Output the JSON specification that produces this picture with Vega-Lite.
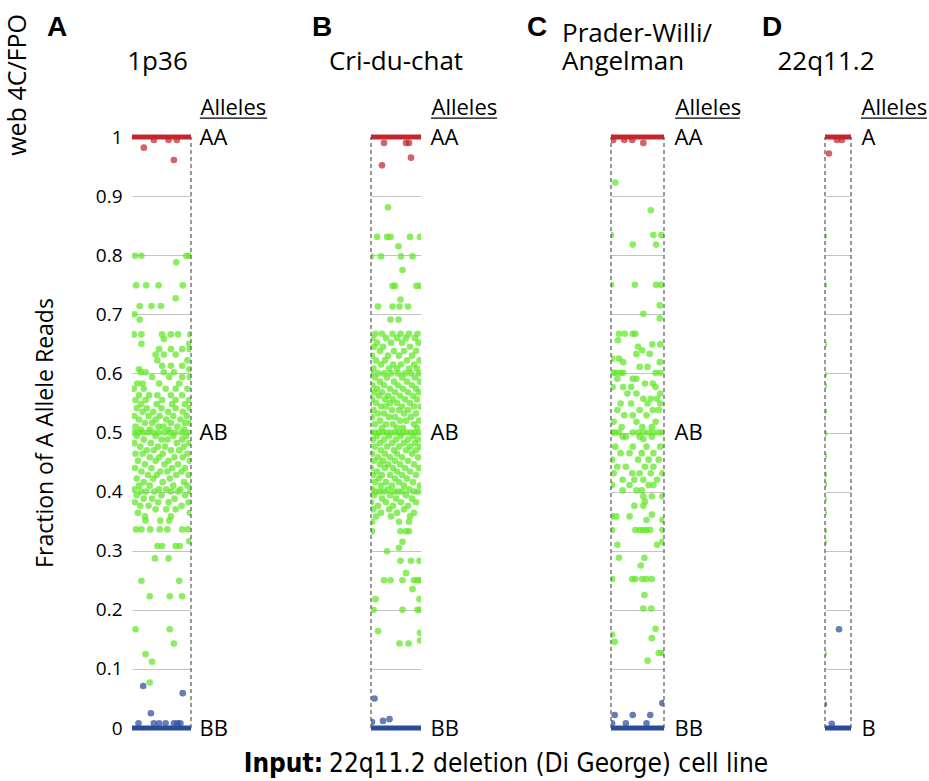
{
"$schema":"https://vega.github.io/schema/vega-lite/v6.json",
"padding":{"left":6,"top":14,"right":0,"bottom":0},
"title":{"text":"web 4C/FPO","orient":"left","anchor":"end","fontSize":25,"fontWeight":"normal","font":"Open Sans","offset":3},
"config":{"view":{"stroke":null},"font":"Open Sans","axis":{"labelColor":"#000","titleColor":"#000","labelFont":"Open Sans","titleFont":"Open Sans"},"title":{"color":"#000"}},
"datasets":{
"A":[
{"x":0.37,"y":0.995,"a":"AA"},{"x":0.62,"y":0.995,"a":"AA"},{"x":0.76,"y":0.995,"a":"AA"},{"x":0.2,"y":0.982,"a":"AA"},{"x":0.71,"y":0.961,"a":"AA"},
{"x":0.05,"y":0.799,"a":"AB"},{"x":0.16,"y":0.799,"a":"AB"},{"x":0.92,"y":0.799,"a":"AB"},{"x":0.98,"y":0.799,"a":"AB"},
{"x":0.75,"y":0.788,"a":"AB"},
{"x":0.07,"y":0.749,"a":"AB"},{"x":0.24,"y":0.749,"a":"AB"},{"x":0.45,"y":0.749,"a":"AB"},{"x":0.86,"y":0.749,"a":"AB"},
{"x":0.74,"y":0.727,"a":"AB"},
{"x":0.13,"y":0.714,"a":"AB"},{"x":0.33,"y":0.714,"a":"AB"},{"x":0.49,"y":0.714,"a":"AB"},
{"x":0.04,"y":0.7,"a":"AB"},{"x":0.13,"y":0.691,"a":"AB"},
{"x":0.03,"y":0.666,"a":"AB"},{"x":0.16,"y":0.666,"a":"AB"},{"x":0.51,"y":0.666,"a":"AB"},{"x":0.66,"y":0.666,"a":"AB"},{"x":0.78,"y":0.666,"a":"AB"},{"x":0.99,"y":0.666,"a":"AB"},
{"x":0.54,"y":0.658,"a":"AB"},{"x":0.16,"y":0.65,"a":"AB"},{"x":0.97,"y":0.65,"a":"AB"},
{"x":0.46,"y":0.641,"a":"AB"},{"x":0.66,"y":0.641,"a":"AB"},{"x":0.85,"y":0.641,"a":"AB"},{"x":0.98,"y":0.641,"a":"AB"},
{"x":0.4,"y":0.632,"a":"AB"},{"x":0.54,"y":0.632,"a":"AB"},{"x":0.74,"y":0.632,"a":"AB"},
{"x":0.43,"y":0.622,"a":"AB"},{"x":0.94,"y":0.622,"a":"AB"},
{"x":0.51,"y":0.613,"a":"AB"},{"x":0.66,"y":0.613,"a":"AB"},{"x":0.85,"y":0.613,"a":"AB"},
{"x":0.12,"y":0.607,"a":"AB"},{"x":0.97,"y":0.607,"a":"AB"},
{"x":0.15,"y":0.602,"a":"AB"},{"x":0.23,"y":0.602,"a":"AB"},{"x":0.54,"y":0.602,"a":"AB"},{"x":0.71,"y":0.602,"a":"AB"},
{"x":0.34,"y":0.594,"a":"AB"},{"x":0.63,"y":0.594,"a":"AB"},{"x":0.85,"y":0.594,"a":"AB"},{"x":0.98,"y":0.594,"a":"AB"},
{"x":0.09,"y":0.583,"a":"AB"},{"x":0.18,"y":0.583,"a":"AB"},{"x":0.46,"y":0.583,"a":"AB"},{"x":0.8,"y":0.583,"a":"AB"},
{"x":0.03,"y":0.574,"a":"AB"},{"x":0.2,"y":0.574,"a":"AB"},{"x":0.57,"y":0.574,"a":"AB"},{"x":0.74,"y":0.574,"a":"AB"},{"x":0.94,"y":0.574,"a":"AB"},
{"x":0.12,"y":0.563,"a":"AB"},{"x":0.29,"y":0.563,"a":"AB"},{"x":0.43,"y":0.563,"a":"AB"},{"x":0.66,"y":0.563,"a":"AB"},{"x":0.85,"y":0.563,"a":"AB"},
{"x":0.06,"y":0.555,"a":"AB"},{"x":0.23,"y":0.555,"a":"AB"},{"x":0.51,"y":0.555,"a":"AB"},{"x":0.74,"y":0.555,"a":"AB"},{"x":0.97,"y":0.555,"a":"AB"},
{"x":0.15,"y":0.548,"a":"AB"},{"x":0.42,"y":0.548,"a":"AB"},{"x":0.68,"y":0.548,"a":"AB"},{"x":0.9,"y":0.548,"a":"AB"},
{"x":0.08,"y":0.541,"a":"AB"},{"x":0.25,"y":0.541,"a":"AB"},{"x":0.5,"y":0.541,"a":"AB"},{"x":0.74,"y":0.541,"a":"AB"},{"x":0.98,"y":0.541,"a":"AB"},
{"x":0.18,"y":0.535,"a":"AB"},{"x":0.36,"y":0.535,"a":"AB"},{"x":0.61,"y":0.535,"a":"AB"},{"x":0.86,"y":0.535,"a":"AB"},
{"x":0.04,"y":0.528,"a":"AB"},{"x":0.28,"y":0.528,"a":"AB"},{"x":0.47,"y":0.528,"a":"AB"},{"x":0.7,"y":0.528,"a":"AB"},{"x":0.93,"y":0.528,"a":"AB"},
{"x":0.12,"y":0.522,"a":"AB"},{"x":0.4,"y":0.522,"a":"AB"},{"x":0.58,"y":0.522,"a":"AB"},{"x":0.82,"y":0.522,"a":"AB"},
{"x":0.22,"y":0.516,"a":"AB"},{"x":0.34,"y":0.516,"a":"AB"},{"x":0.66,"y":0.516,"a":"AB"},{"x":0.9,"y":0.516,"a":"AB"},{"x":0.99,"y":0.516,"a":"AB"},
{"x":0.06,"y":0.51,"a":"AB"},{"x":0.45,"y":0.51,"a":"AB"},{"x":0.53,"y":0.51,"a":"AB"},{"x":0.77,"y":0.51,"a":"AB"},
{"x":0.15,"y":0.505,"a":"AB"},{"x":0.3,"y":0.505,"a":"AB"},{"x":0.62,"y":0.505,"a":"AB"},{"x":0.88,"y":0.505,"a":"AB"},
{"x":0.03,"y":0.5,"a":"AB"},{"x":0.1,"y":0.5,"a":"AB"},{"x":0.19,"y":0.5,"a":"AB"},{"x":0.27,"y":0.5,"a":"AB"},{"x":0.36,"y":0.5,"a":"AB"},{"x":0.45,"y":0.5,"a":"AB"},{"x":0.55,"y":0.5,"a":"AB"},{"x":0.64,"y":0.5,"a":"AB"},{"x":0.73,"y":0.5,"a":"AB"},{"x":0.84,"y":0.5,"a":"AB"},{"x":0.95,"y":0.5,"a":"AB"},
{"x":0.08,"y":0.494,"a":"AB"},{"x":0.4,"y":0.494,"a":"AB"},{"x":0.7,"y":0.494,"a":"AB"},{"x":0.92,"y":0.494,"a":"AB"},
{"x":0.2,"y":0.488,"a":"AB"},{"x":0.5,"y":0.488,"a":"AB"},{"x":0.6,"y":0.488,"a":"AB"},{"x":0.85,"y":0.488,"a":"AB"},
{"x":0.04,"y":0.482,"a":"AB"},{"x":0.32,"y":0.482,"a":"AB"},{"x":0.76,"y":0.482,"a":"AB"},{"x":0.97,"y":0.482,"a":"AB"},
{"x":0.14,"y":0.476,"a":"AB"},{"x":0.44,"y":0.476,"a":"AB"},{"x":0.56,"y":0.476,"a":"AB"},{"x":0.88,"y":0.476,"a":"AB"},
{"x":0.25,"y":0.47,"a":"AB"},{"x":0.37,"y":0.47,"a":"AB"},{"x":0.66,"y":0.47,"a":"AB"},{"x":0.8,"y":0.47,"a":"AB"},
{"x":0.06,"y":0.464,"a":"AB"},{"x":0.18,"y":0.464,"a":"AB"},{"x":0.52,"y":0.464,"a":"AB"},{"x":0.94,"y":0.464,"a":"AB"},
{"x":0.3,"y":0.458,"a":"AB"},{"x":0.46,"y":0.458,"a":"AB"},{"x":0.72,"y":0.458,"a":"AB"},{"x":0.86,"y":0.458,"a":"AB"},
{"x":0.1,"y":0.452,"a":"AB"},{"x":0.4,"y":0.452,"a":"AB"},{"x":0.62,"y":0.452,"a":"AB"},{"x":0.98,"y":0.452,"a":"AB"},
{"x":0.22,"y":0.446,"a":"AB"},{"x":0.55,"y":0.446,"a":"AB"},{"x":0.78,"y":0.446,"a":"AB"},
{"x":0.05,"y":0.44,"a":"AB"},{"x":0.33,"y":0.44,"a":"AB"},{"x":0.68,"y":0.44,"a":"AB"},{"x":0.9,"y":0.44,"a":"AB"},
{"x":0.16,"y":0.434,"a":"AB"},{"x":0.48,"y":0.434,"a":"AB"},{"x":0.6,"y":0.434,"a":"AB"},{"x":0.84,"y":0.434,"a":"AB"},
{"x":0.27,"y":0.428,"a":"AB"},{"x":0.42,"y":0.428,"a":"AB"},{"x":0.75,"y":0.428,"a":"AB"},{"x":0.96,"y":0.428,"a":"AB"},
{"x":0.08,"y":0.422,"a":"AB"},{"x":0.36,"y":0.422,"a":"AB"},{"x":0.64,"y":0.422,"a":"AB"},
{"x":0.2,"y":0.416,"a":"AB"},{"x":0.52,"y":0.416,"a":"AB"},{"x":0.88,"y":0.416,"a":"AB"},
{"x":0.12,"y":0.41,"a":"AB"},{"x":0.3,"y":0.41,"a":"AB"},{"x":0.7,"y":0.41,"a":"AB"},{"x":0.94,"y":0.41,"a":"AB"},
{"x":0.04,"y":0.404,"a":"AB"},{"x":0.46,"y":0.404,"a":"AB"},{"x":0.58,"y":0.404,"a":"AB"},{"x":0.82,"y":0.404,"a":"AB"},
{"x":0.15,"y":0.4,"a":"AB"},{"x":0.24,"y":0.4,"a":"AB"},{"x":0.38,"y":0.4,"a":"AB"},{"x":0.66,"y":0.4,"a":"AB"},{"x":0.78,"y":0.4,"a":"AB"},{"x":0.99,"y":0.4,"a":"AB"},
{"x":0.08,"y":0.394,"a":"AB"},{"x":0.5,"y":0.394,"a":"AB"},{"x":0.9,"y":0.394,"a":"AB"},
{"x":0.2,"y":0.388,"a":"AB"},{"x":0.34,"y":0.388,"a":"AB"},{"x":0.72,"y":0.388,"a":"AB"},
{"x":0.05,"y":0.382,"a":"AB"},{"x":0.44,"y":0.382,"a":"AB"},{"x":0.62,"y":0.382,"a":"AB"},{"x":0.96,"y":0.382,"a":"AB"},
{"x":0.14,"y":0.376,"a":"AB"},{"x":0.28,"y":0.376,"a":"AB"},{"x":0.84,"y":0.376,"a":"AB"},
{"x":0.4,"y":0.37,"a":"AB"},{"x":0.58,"y":0.37,"a":"AB"},{"x":0.74,"y":0.37,"a":"AB"},
{"x":0.1,"y":0.364,"a":"AB"},{"x":0.98,"y":0.364,"a":"AB"},
{"x":0.22,"y":0.358,"a":"AB"},{"x":0.66,"y":0.358,"a":"AB"},
{"x":0.23,"y":0.351,"a":"AB"},{"x":0.48,"y":0.351,"a":"AB"},{"x":0.63,"y":0.351,"a":"AB"},
{"x":0.07,"y":0.336,"a":"AB"},{"x":0.16,"y":0.336,"a":"AB"},{"x":0.31,"y":0.336,"a":"AB"},{"x":0.47,"y":0.336,"a":"AB"},{"x":0.6,"y":0.336,"a":"AB"},{"x":0.85,"y":0.336,"a":"AB"},{"x":0.95,"y":0.336,"a":"AB"},
{"x":0.97,"y":0.316,"a":"AB"},
{"x":0.43,"y":0.308,"a":"AB"},{"x":0.51,"y":0.308,"a":"AB"},{"x":0.74,"y":0.308,"a":"AB"},{"x":0.81,"y":0.308,"a":"AB"},
{"x":0.39,"y":0.287,"a":"AB"},{"x":0.62,"y":0.287,"a":"AB"},
{"x":0.16,"y":0.249,"a":"AB"},{"x":0.8,"y":0.249,"a":"AB"},
{"x":0.3,"y":0.223,"a":"AB"},{"x":0.64,"y":0.223,"a":"AB"},{"x":0.85,"y":0.223,"a":"AB"},
{"x":0.06,"y":0.167,"a":"AB"},{"x":0.64,"y":0.167,"a":"AB"},
{"x":0.71,"y":0.143,"a":"AB"},{"x":0.23,"y":0.125,"a":"AB"},{"x":0.34,"y":0.112,"a":"AB"},{"x":0.3,"y":0.077,"a":"AB"},
{"x":0.19,"y":0.071,"a":"BB"},{"x":0.86,"y":0.059,"a":"BB"},{"x":0.32,"y":0.025,"a":"BB"},
{"x":0.11,"y":0.008,"a":"BB"},{"x":0.37,"y":0.008,"a":"BB"},{"x":0.46,"y":0.008,"a":"BB"},{"x":0.57,"y":0.008,"a":"BB"},{"x":0.71,"y":0.008,"a":"BB"},{"x":0.77,"y":0.008,"a":"BB"},{"x":0.82,"y":0.008,"a":"BB"}
],
"B":[
{"x":0.26,"y":0.99,"a":"AA"},{"x":0.7,"y":0.99,"a":"AA"},{"x":0.76,"y":0.99,"a":"AA"},{"x":0.8,"y":0.965,"a":"AA"},{"x":0.22,"y":0.952,"a":"AA"},
{"x":0.34,"y":0.881,"a":"AB"},
{"x":0.12,"y":0.831,"a":"AB"},{"x":0.32,"y":0.831,"a":"AB"},{"x":0.39,"y":0.831,"a":"AB"},{"x":0.78,"y":0.831,"a":"AB"},{"x":0.98,"y":0.831,"a":"AB"},
{"x":0.55,"y":0.815,"a":"AB"},
{"x":0.0,"y":0.798,"a":"AB"},{"x":0.2,"y":0.798,"a":"AB"},{"x":0.6,"y":0.798,"a":"AB"},{"x":0.83,"y":0.798,"a":"AB"},
{"x":0.63,"y":0.775,"a":"AB"},
{"x":0.43,"y":0.748,"a":"AB"},{"x":0.48,"y":0.748,"a":"AB"},{"x":0.91,"y":0.748,"a":"AB"},{"x":0.98,"y":0.748,"a":"AB"},
{"x":0.59,"y":0.725,"a":"AB"},
{"x":0.14,"y":0.713,"a":"AB"},{"x":0.43,"y":0.713,"a":"AB"},{"x":0.57,"y":0.713,"a":"AB"},{"x":0.74,"y":0.713,"a":"AB"},
{"x":0.39,"y":0.691,"a":"AB"},{"x":0.55,"y":0.691,"a":"AB"},
{"x":0.09,"y":0.667,"a":"AB"},{"x":0.22,"y":0.667,"a":"AB"},{"x":0.43,"y":0.667,"a":"AB"},{"x":0.59,"y":0.667,"a":"AB"},{"x":0.76,"y":0.667,"a":"AB"},{"x":0.93,"y":0.667,"a":"AB"},
{"x":0.03,"y":0.66,"a":"AB"},{"x":0.3,"y":0.66,"a":"AB"},{"x":0.52,"y":0.66,"a":"AB"},{"x":0.7,"y":0.66,"a":"AB"},{"x":0.88,"y":0.66,"a":"AB"},
{"x":0.12,"y":0.652,"a":"AB"},{"x":0.4,"y":0.652,"a":"AB"},{"x":0.62,"y":0.652,"a":"AB"},{"x":0.95,"y":0.652,"a":"AB"},
{"x":0.06,"y":0.645,"a":"AB"},{"x":0.24,"y":0.645,"a":"AB"},{"x":0.78,"y":0.645,"a":"AB"},
{"x":0.18,"y":0.638,"a":"AB"},{"x":0.46,"y":0.638,"a":"AB"},{"x":0.66,"y":0.638,"a":"AB"},{"x":0.9,"y":0.638,"a":"AB"},
{"x":0.02,"y":0.63,"a":"AB"},{"x":0.34,"y":0.63,"a":"AB"},{"x":0.56,"y":0.63,"a":"AB"},{"x":0.82,"y":0.63,"a":"AB"},
{"x":0.1,"y":0.622,"a":"AB"},{"x":0.28,"y":0.622,"a":"AB"},{"x":0.72,"y":0.622,"a":"AB"},{"x":0.97,"y":0.622,"a":"AB"},
{"x":0.2,"y":0.615,"a":"AB"},{"x":0.44,"y":0.615,"a":"AB"},{"x":0.6,"y":0.615,"a":"AB"},{"x":0.86,"y":0.615,"a":"AB"},
{"x":0.05,"y":0.608,"a":"AB"},{"x":0.36,"y":0.608,"a":"AB"},{"x":0.52,"y":0.608,"a":"AB"},{"x":0.76,"y":0.608,"a":"AB"},{"x":0.92,"y":0.608,"a":"AB"},
{"x":0.0,"y":0.6,"a":"AB"},{"x":0.14,"y":0.6,"a":"AB"},{"x":0.26,"y":0.6,"a":"AB"},{"x":0.4,"y":0.6,"a":"AB"},{"x":0.54,"y":0.6,"a":"AB"},{"x":0.68,"y":0.6,"a":"AB"},{"x":0.8,"y":0.6,"a":"AB"},{"x":0.96,"y":0.6,"a":"AB"},
{"x":0.08,"y":0.593,"a":"AB"},{"x":0.32,"y":0.593,"a":"AB"},{"x":0.62,"y":0.593,"a":"AB"},{"x":0.88,"y":0.593,"a":"AB"},
{"x":0.18,"y":0.586,"a":"AB"},{"x":0.46,"y":0.586,"a":"AB"},{"x":0.72,"y":0.586,"a":"AB"},{"x":0.98,"y":0.586,"a":"AB"},
{"x":0.03,"y":0.58,"a":"AB"},{"x":0.26,"y":0.58,"a":"AB"},{"x":0.54,"y":0.58,"a":"AB"},{"x":0.82,"y":0.58,"a":"AB"},
{"x":0.12,"y":0.574,"a":"AB"},{"x":0.38,"y":0.574,"a":"AB"},{"x":0.64,"y":0.574,"a":"AB"},{"x":0.9,"y":0.574,"a":"AB"},
{"x":0.06,"y":0.568,"a":"AB"},{"x":0.22,"y":0.568,"a":"AB"},{"x":0.48,"y":0.568,"a":"AB"},{"x":0.74,"y":0.568,"a":"AB"},{"x":0.96,"y":0.568,"a":"AB"},
{"x":0.16,"y":0.562,"a":"AB"},{"x":0.34,"y":0.562,"a":"AB"},{"x":0.58,"y":0.562,"a":"AB"},{"x":0.84,"y":0.562,"a":"AB"},
{"x":0.02,"y":0.556,"a":"AB"},{"x":0.28,"y":0.556,"a":"AB"},{"x":0.44,"y":0.556,"a":"AB"},{"x":0.68,"y":0.556,"a":"AB"},{"x":0.92,"y":0.556,"a":"AB"},
{"x":0.1,"y":0.55,"a":"AB"},{"x":0.38,"y":0.55,"a":"AB"},{"x":0.52,"y":0.55,"a":"AB"},{"x":0.78,"y":0.55,"a":"AB"},
{"x":0.2,"y":0.544,"a":"AB"},{"x":0.3,"y":0.544,"a":"AB"},{"x":0.62,"y":0.544,"a":"AB"},{"x":0.86,"y":0.544,"a":"AB"},{"x":0.99,"y":0.544,"a":"AB"},
{"x":0.05,"y":0.538,"a":"AB"},{"x":0.42,"y":0.538,"a":"AB"},{"x":0.56,"y":0.538,"a":"AB"},{"x":0.74,"y":0.538,"a":"AB"},
{"x":0.14,"y":0.532,"a":"AB"},{"x":0.26,"y":0.532,"a":"AB"},{"x":0.66,"y":0.532,"a":"AB"},{"x":0.9,"y":0.532,"a":"AB"},
{"x":0.02,"y":0.526,"a":"AB"},{"x":0.36,"y":0.526,"a":"AB"},{"x":0.48,"y":0.526,"a":"AB"},{"x":0.8,"y":0.526,"a":"AB"},
{"x":0.18,"y":0.52,"a":"AB"},{"x":0.58,"y":0.52,"a":"AB"},{"x":0.7,"y":0.52,"a":"AB"},{"x":0.96,"y":0.52,"a":"AB"},
{"x":0.08,"y":0.514,"a":"AB"},{"x":0.3,"y":0.514,"a":"AB"},{"x":0.44,"y":0.514,"a":"AB"},{"x":0.86,"y":0.514,"a":"AB"},
{"x":0.22,"y":0.508,"a":"AB"},{"x":0.52,"y":0.508,"a":"AB"},{"x":0.64,"y":0.508,"a":"AB"},{"x":0.92,"y":0.508,"a":"AB"},
{"x":0.0,"y":0.5,"a":"AB"},{"x":0.08,"y":0.5,"a":"AB"},{"x":0.16,"y":0.5,"a":"AB"},{"x":0.24,"y":0.5,"a":"AB"},{"x":0.32,"y":0.5,"a":"AB"},{"x":0.4,"y":0.5,"a":"AB"},{"x":0.48,"y":0.5,"a":"AB"},{"x":0.56,"y":0.5,"a":"AB"},{"x":0.64,"y":0.5,"a":"AB"},{"x":0.72,"y":0.5,"a":"AB"},{"x":0.8,"y":0.5,"a":"AB"},{"x":0.88,"y":0.5,"a":"AB"},{"x":0.96,"y":0.5,"a":"AB"},
{"x":0.12,"y":0.494,"a":"AB"},{"x":0.36,"y":0.494,"a":"AB"},{"x":0.6,"y":0.494,"a":"AB"},{"x":0.84,"y":0.494,"a":"AB"},
{"x":0.04,"y":0.488,"a":"AB"},{"x":0.26,"y":0.488,"a":"AB"},{"x":0.5,"y":0.488,"a":"AB"},{"x":0.74,"y":0.488,"a":"AB"},{"x":0.94,"y":0.488,"a":"AB"},
{"x":0.18,"y":0.482,"a":"AB"},{"x":0.42,"y":0.482,"a":"AB"},{"x":0.66,"y":0.482,"a":"AB"},{"x":0.88,"y":0.482,"a":"AB"},
{"x":0.08,"y":0.476,"a":"AB"},{"x":0.32,"y":0.476,"a":"AB"},{"x":0.56,"y":0.476,"a":"AB"},{"x":0.78,"y":0.476,"a":"AB"},{"x":0.98,"y":0.476,"a":"AB"},
{"x":0.2,"y":0.47,"a":"AB"},{"x":0.46,"y":0.47,"a":"AB"},{"x":0.7,"y":0.47,"a":"AB"},{"x":0.9,"y":0.47,"a":"AB"},
{"x":0.02,"y":0.464,"a":"AB"},{"x":0.28,"y":0.464,"a":"AB"},{"x":0.52,"y":0.464,"a":"AB"},{"x":0.82,"y":0.464,"a":"AB"},
{"x":0.14,"y":0.458,"a":"AB"},{"x":0.38,"y":0.458,"a":"AB"},{"x":0.62,"y":0.458,"a":"AB"},{"x":0.94,"y":0.458,"a":"AB"},
{"x":0.06,"y":0.452,"a":"AB"},{"x":0.24,"y":0.452,"a":"AB"},{"x":0.48,"y":0.452,"a":"AB"},{"x":0.74,"y":0.452,"a":"AB"},
{"x":0.18,"y":0.446,"a":"AB"},{"x":0.34,"y":0.446,"a":"AB"},{"x":0.58,"y":0.446,"a":"AB"},{"x":0.86,"y":0.446,"a":"AB"},
{"x":0.0,"y":0.44,"a":"AB"},{"x":0.28,"y":0.44,"a":"AB"},{"x":0.44,"y":0.44,"a":"AB"},{"x":0.68,"y":0.44,"a":"AB"},{"x":0.96,"y":0.44,"a":"AB"},
{"x":0.12,"y":0.434,"a":"AB"},{"x":0.52,"y":0.434,"a":"AB"},{"x":0.78,"y":0.434,"a":"AB"},
{"x":0.04,"y":0.428,"a":"AB"},{"x":0.22,"y":0.428,"a":"AB"},{"x":0.38,"y":0.428,"a":"AB"},{"x":0.62,"y":0.428,"a":"AB"},{"x":0.9,"y":0.428,"a":"AB"},
{"x":0.16,"y":0.422,"a":"AB"},{"x":0.48,"y":0.422,"a":"AB"},{"x":0.72,"y":0.422,"a":"AB"},
{"x":0.08,"y":0.416,"a":"AB"},{"x":0.3,"y":0.416,"a":"AB"},{"x":0.56,"y":0.416,"a":"AB"},{"x":0.84,"y":0.416,"a":"AB"},
{"x":0.2,"y":0.41,"a":"AB"},{"x":0.42,"y":0.41,"a":"AB"},{"x":0.66,"y":0.41,"a":"AB"},{"x":0.98,"y":0.41,"a":"AB"},
{"x":0.02,"y":0.404,"a":"AB"},{"x":0.34,"y":0.404,"a":"AB"},{"x":0.76,"y":0.404,"a":"AB"},
{"x":0.1,"y":0.4,"a":"AB"},{"x":0.18,"y":0.4,"a":"AB"},{"x":0.26,"y":0.4,"a":"AB"},{"x":0.46,"y":0.4,"a":"AB"},{"x":0.54,"y":0.4,"a":"AB"},{"x":0.62,"y":0.4,"a":"AB"},{"x":0.86,"y":0.4,"a":"AB"},{"x":0.94,"y":0.4,"a":"AB"},
{"x":0.06,"y":0.394,"a":"AB"},{"x":0.38,"y":0.394,"a":"AB"},{"x":0.7,"y":0.394,"a":"AB"},
{"x":0.22,"y":0.388,"a":"AB"},{"x":0.5,"y":0.388,"a":"AB"},{"x":0.82,"y":0.388,"a":"AB"},
{"x":0.0,"y":0.382,"a":"AB"},{"x":0.3,"y":0.382,"a":"AB"},{"x":0.6,"y":0.382,"a":"AB"},{"x":0.9,"y":0.382,"a":"AB"},
{"x":0.14,"y":0.376,"a":"AB"},{"x":0.44,"y":0.376,"a":"AB"},{"x":0.74,"y":0.376,"a":"AB"},
{"x":0.04,"y":0.37,"a":"AB"},{"x":0.36,"y":0.37,"a":"AB"},{"x":0.66,"y":0.37,"a":"AB"},
{"x":0.2,"y":0.364,"a":"AB"},{"x":0.52,"y":0.364,"a":"AB"},{"x":0.86,"y":0.364,"a":"AB"},
{"x":0.1,"y":0.358,"a":"AB"},{"x":0.4,"y":0.358,"a":"AB"},{"x":0.78,"y":0.358,"a":"AB"},
{"x":0.02,"y":0.349,"a":"AB"},{"x":0.56,"y":0.349,"a":"AB"},{"x":0.76,"y":0.349,"a":"AB"},
{"x":0.02,"y":0.333,"a":"AB"},{"x":0.59,"y":0.333,"a":"AB"},{"x":0.7,"y":0.333,"a":"AB"},{"x":0.76,"y":0.333,"a":"AB"},
{"x":0.63,"y":0.315,"a":"AB"},{"x":0.56,"y":0.305,"a":"AB"},{"x":0.32,"y":0.299,"a":"AB"},
{"x":0.59,"y":0.283,"a":"AB"},{"x":0.8,"y":0.283,"a":"AB"},{"x":0.97,"y":0.283,"a":"AB"},
{"x":0.7,"y":0.262,"a":"AB"},
{"x":0.26,"y":0.25,"a":"AB"},{"x":0.39,"y":0.25,"a":"AB"},{"x":0.63,"y":0.25,"a":"AB"},{"x":0.86,"y":0.25,"a":"AB"},{"x":0.93,"y":0.25,"a":"AB"},{"x":0.98,"y":0.25,"a":"AB"},
{"x":0.83,"y":0.235,"a":"AB"},{"x":0.09,"y":0.218,"a":"AB"},{"x":0.97,"y":0.218,"a":"AB"},
{"x":0.05,"y":0.2,"a":"AB"},{"x":0.63,"y":0.2,"a":"AB"},{"x":0.93,"y":0.2,"a":"AB"},{"x":0.98,"y":0.2,"a":"AB"},
{"x":0.14,"y":0.164,"a":"AB"},{"x":0.98,"y":0.161,"a":"AB"},{"x":0.98,"y":0.148,"a":"AB"},
{"x":0.57,"y":0.143,"a":"AB"},{"x":0.75,"y":0.143,"a":"AB"},
{"x":0.07,"y":0.05,"a":"BB"},{"x":0.02,"y":0.01,"a":"BB"},{"x":0.24,"y":0.012,"a":"BB"},{"x":0.37,"y":0.015,"a":"BB"}
],
"C":[
{"x":0.04,"y":0.995,"a":"AA"},{"x":0.25,"y":0.995,"a":"AA"},{"x":0.4,"y":0.995,"a":"AA"},{"x":0.61,"y":0.99,"a":"AA"},
{"x":0.08,"y":0.923,"a":"AB"},{"x":0.75,"y":0.876,"a":"AB"},
{"x":0.0,"y":0.834,"a":"AB"},{"x":0.8,"y":0.834,"a":"AB"},{"x":0.95,"y":0.834,"a":"AB"},
{"x":0.41,"y":0.818,"a":"AB"},{"x":0.85,"y":0.818,"a":"AB"},
{"x":0.0,"y":0.75,"a":"AB"},{"x":0.45,"y":0.75,"a":"AB"},{"x":0.85,"y":0.75,"a":"AB"},{"x":0.95,"y":0.75,"a":"AB"},
{"x":0.92,"y":0.715,"a":"AB"},{"x":0.61,"y":0.701,"a":"AB"},{"x":0.92,"y":0.693,"a":"AB"},
{"x":0.15,"y":0.667,"a":"AB"},{"x":0.26,"y":0.667,"a":"AB"},{"x":0.41,"y":0.667,"a":"AB"},{"x":0.46,"y":0.667,"a":"AB"},
{"x":0.13,"y":0.656,"a":"AB"},{"x":0.78,"y":0.649,"a":"AB"},{"x":0.93,"y":0.649,"a":"AB"},
{"x":0.51,"y":0.645,"a":"AB"},{"x":0.59,"y":0.639,"a":"AB"},{"x":0.48,"y":0.633,"a":"AB"},{"x":0.73,"y":0.633,"a":"AB"},
{"x":0.02,"y":0.625,"a":"AB"},{"x":0.15,"y":0.625,"a":"AB"},{"x":0.23,"y":0.619,"a":"AB"},{"x":0.92,"y":0.619,"a":"AB"},
{"x":0.54,"y":0.611,"a":"AB"},{"x":0.69,"y":0.611,"a":"AB"},
{"x":0.05,"y":0.601,"a":"AB"},{"x":0.1,"y":0.601,"a":"AB"},{"x":0.18,"y":0.601,"a":"AB"},{"x":0.23,"y":0.601,"a":"AB"},{"x":0.84,"y":0.601,"a":"AB"},{"x":0.93,"y":0.601,"a":"AB"},
{"x":0.12,"y":0.591,"a":"AB"},{"x":0.41,"y":0.591,"a":"AB"},{"x":0.48,"y":0.591,"a":"AB"},
{"x":0.64,"y":0.583,"a":"AB"},{"x":0.79,"y":0.583,"a":"AB"},
{"x":0.03,"y":0.577,"a":"AB"},{"x":0.23,"y":0.577,"a":"AB"},{"x":0.38,"y":0.577,"a":"AB"},{"x":0.84,"y":0.577,"a":"AB"},
{"x":0.31,"y":0.566,"a":"AB"},{"x":0.48,"y":0.566,"a":"AB"},{"x":0.93,"y":0.566,"a":"AB"},
{"x":0.61,"y":0.557,"a":"AB"},{"x":0.75,"y":0.557,"a":"AB"},{"x":0.87,"y":0.557,"a":"AB"},
{"x":0.18,"y":0.549,"a":"AB"},{"x":0.38,"y":0.549,"a":"AB"},{"x":0.69,"y":0.549,"a":"AB"},{"x":0.93,"y":0.549,"a":"AB"},
{"x":0.12,"y":0.538,"a":"AB"},{"x":0.54,"y":0.538,"a":"AB"},{"x":0.79,"y":0.538,"a":"AB"},{"x":0.9,"y":0.538,"a":"AB"},
{"x":0.25,"y":0.529,"a":"AB"},{"x":0.41,"y":0.529,"a":"AB"},{"x":0.67,"y":0.529,"a":"AB"},
{"x":0.05,"y":0.518,"a":"AB"},{"x":0.48,"y":0.518,"a":"AB"},{"x":0.84,"y":0.518,"a":"AB"},
{"x":0.2,"y":0.509,"a":"AB"},{"x":0.59,"y":0.509,"a":"AB"},{"x":0.77,"y":0.509,"a":"AB"},
{"x":0.02,"y":0.5,"a":"AB"},{"x":0.08,"y":0.5,"a":"AB"},{"x":0.15,"y":0.5,"a":"AB"},{"x":0.41,"y":0.5,"a":"AB"},{"x":0.51,"y":0.5,"a":"AB"},{"x":0.61,"y":0.5,"a":"AB"},{"x":0.7,"y":0.5,"a":"AB"},{"x":0.8,"y":0.5,"a":"AB"},{"x":0.9,"y":0.5,"a":"AB"},{"x":0.97,"y":0.5,"a":"AB"},
{"x":0.22,"y":0.493,"a":"AB"},{"x":0.28,"y":0.493,"a":"AB"},{"x":0.54,"y":0.493,"a":"AB"},{"x":0.61,"y":0.489,"a":"AB"},{"x":0.77,"y":0.493,"a":"AB"},
{"x":0.08,"y":0.476,"a":"AB"},{"x":0.41,"y":0.476,"a":"AB"},{"x":0.67,"y":0.476,"a":"AB"},{"x":0.93,"y":0.476,"a":"AB"},
{"x":0.18,"y":0.465,"a":"AB"},{"x":0.35,"y":0.465,"a":"AB"},{"x":0.58,"y":0.465,"a":"AB"},{"x":0.8,"y":0.465,"a":"AB"},
{"x":0.02,"y":0.454,"a":"AB"},{"x":0.51,"y":0.454,"a":"AB"},{"x":0.71,"y":0.454,"a":"AB"},{"x":0.9,"y":0.454,"a":"AB"},
{"x":0.12,"y":0.442,"a":"AB"},{"x":0.28,"y":0.442,"a":"AB"},{"x":0.64,"y":0.442,"a":"AB"},{"x":0.8,"y":0.442,"a":"AB"},
{"x":0.05,"y":0.431,"a":"AB"},{"x":0.4,"y":0.431,"a":"AB"},{"x":0.54,"y":0.431,"a":"AB"},{"x":0.75,"y":0.431,"a":"AB"},{"x":0.97,"y":0.431,"a":"AB"},
{"x":0.22,"y":0.42,"a":"AB"},{"x":0.44,"y":0.42,"a":"AB"},{"x":0.61,"y":0.42,"a":"AB"},{"x":0.87,"y":0.42,"a":"AB"},
{"x":0.02,"y":0.411,"a":"AB"},{"x":0.35,"y":0.411,"a":"AB"},{"x":0.71,"y":0.411,"a":"AB"},{"x":0.8,"y":0.411,"a":"AB"},
{"x":0.22,"y":0.402,"a":"AB"},{"x":0.48,"y":0.402,"a":"AB"},{"x":0.58,"y":0.402,"a":"AB"},
{"x":0.61,"y":0.392,"a":"AB"},{"x":0.77,"y":0.392,"a":"AB"},{"x":0.97,"y":0.392,"a":"AB"},
{"x":0.64,"y":0.383,"a":"AB"},{"x":0.44,"y":0.376,"a":"AB"},{"x":0.61,"y":0.376,"a":"AB"},
{"x":0.77,"y":0.361,"a":"AB"},{"x":0.02,"y":0.358,"a":"AB"},{"x":0.1,"y":0.358,"a":"AB"},{"x":0.35,"y":0.358,"a":"AB"},
{"x":0.67,"y":0.352,"a":"AB"},{"x":0.97,"y":0.352,"a":"AB"},
{"x":0.02,"y":0.335,"a":"AB"},{"x":0.46,"y":0.335,"a":"AB"},{"x":0.54,"y":0.335,"a":"AB"},{"x":0.61,"y":0.335,"a":"AB"},{"x":0.67,"y":0.335,"a":"AB"},{"x":0.74,"y":0.335,"a":"AB"},{"x":0.97,"y":0.335,"a":"AB"},
{"x":0.12,"y":0.31,"a":"AB"},{"x":0.87,"y":0.31,"a":"AB"},{"x":0.97,"y":0.315,"a":"AB"},
{"x":0.15,"y":0.288,"a":"AB"},{"x":0.63,"y":0.288,"a":"AB"},{"x":0.56,"y":0.275,"a":"AB"},
{"x":0.02,"y":0.252,"a":"AB"},{"x":0.4,"y":0.252,"a":"AB"},{"x":0.46,"y":0.252,"a":"AB"},{"x":0.59,"y":0.252,"a":"AB"},{"x":0.67,"y":0.252,"a":"AB"},{"x":0.77,"y":0.252,"a":"AB"},
{"x":0.63,"y":0.225,"a":"AB"},{"x":0.61,"y":0.202,"a":"AB"},{"x":0.76,"y":0.202,"a":"AB"},
{"x":0.84,"y":0.168,"a":"AB"},{"x":0.02,"y":0.158,"a":"AB"},{"x":0.77,"y":0.152,"a":"AB"},{"x":0.07,"y":0.146,"a":"AB"},
{"x":0.9,"y":0.127,"a":"AB"},{"x":0.97,"y":0.127,"a":"AB"},{"x":0.69,"y":0.114,"a":"AB"},
{"x":0.97,"y":0.042,"a":"BB"},{"x":0.07,"y":0.022,"a":"BB"},{"x":0.41,"y":0.022,"a":"BB"},{"x":0.74,"y":0.022,"a":"BB"},
{"x":0.02,"y":0.008,"a":"BB"},{"x":0.28,"y":0.008,"a":"BB"},{"x":0.67,"y":0.008,"a":"BB"}
],
"D":[
{"x":0.15,"y":0.972,"a":"AA"},{"x":0.46,"y":0.995,"a":"AA"},{"x":0.65,"y":0.995,"a":"AA"},
{"x":-0.04,"y":0.832,"a":"AB"},{"x":-0.04,"y":0.749,"a":"AB"},{"x":-0.04,"y":0.649,"a":"AB"},{"x":-0.04,"y":0.598,"a":"AB"},{"x":-0.04,"y":0.579,"a":"AB"},
{"x":-0.04,"y":0.536,"a":"AB"},{"x":-0.03,"y":0.498,"a":"AB"},{"x":-0.04,"y":0.46,"a":"AB"},{"x":-0.04,"y":0.429,"a":"AB"},{"x":-0.04,"y":0.412,"a":"AB"},
{"x":-0.04,"y":0.387,"a":"AB"},{"x":-0.04,"y":0.364,"a":"AB"},{"x":-0.04,"y":0.333,"a":"AB"},{"x":-0.04,"y":0.314,"a":"AB"},{"x":-0.04,"y":0.125,"a":"AB"},
{"x":0.54,"y":0.167,"a":"BB"},{"x":-0.04,"y":0.04,"a":"BB"},{"x":0.26,"y":0.007,"a":"BB"}
]
},
"vconcat":[
{"hconcat":[
  {"width":85,"height":591,"title":{"text":"A","anchor":"start","frame":"group","offset":95,"fontSize":28,"fontWeight":"bold","font":"Liberation Sans"},"data":{"values":[]},"mark":"point"},
  {"width":59,"height":591,
   "title":{"text":"1p36","anchor":"middle","frame":"group","dx":-4,"offset":21,"fontSize":26,"fontWeight":"normal","font":"Open Sans"},
   "resolve":{"axis":{"y":"independent"}},
   "layer":[
    {"data":{"name":"A"},"mark":{"type":"circle","size":44,"opacity":0.72,"clip":true},
     "encoding":{
      "x":{"field":"x","type":"quantitative","scale":{"domain":[0,1],"nice":false,"zero":false},"axis":null},
      "y":{"field":"y","type":"quantitative","scale":{"domain":[0,1],"nice":false,"zero":false},"axis":{"orient":"left","values":[0,0.1,0.2,0.3,0.4,0.5,0.6,0.7,0.8,0.9,1],"format":"~g","ticks":false,"domain":false,"grid":true,"gridColor":"#c4c4c4","labelFontSize":19,"labelPadding":10,"labelOverlap":false,"labelFlush":false,"title":"Fraction of A Allele Reads","titleFontSize":23,"titleFontWeight":"normal","titlePadding":38}},
      "color":{"field":"a","type":"nominal","scale":{"domain":["AA","AB","BB"],"range":["#c1272d","#5ee824","#2b4c9b"]},"legend":null}}},
    {"data":{"values":[{"level":1,"a":"AA"},{"level":0,"a":"BB"}]},"mark":{"type":"rule","strokeWidth":5},
     "encoding":{"x":{"datum":0,"type":"quantitative","axis":null},"x2":{"datum":1},
      "y":{"field":"level","type":"quantitative","axis":{"orient":"right","values":[0,0.5,1],"labelExpr":"datum.value == 1 ? 'AA' : datum.value == 0 ? 'BB' : 'AB'","ticks":false,"domain":false,"grid":false,"labelFontSize":22,"labelPadding":8,"labelOverlap":false,"labelFlush":false,"title":"Alleles","titleAngle":0,"titleAlign":"left","titleBaseline":"alphabetic","titleX":9,"titleY":-23,"titleFontSize":22,"titleFontWeight":"normal"}},
      "color":{"field":"a","type":"nominal","legend":null}}},
    {"data":{"values":[{"edge":1}]},"mark":{"type":"rule","strokeDash":[4,3],"color":"#555","strokeWidth":1.2},
     "encoding":{"x":{"field":"edge","type":"quantitative","axis":null},"y":{"datum":0,"type":"quantitative","axis":null},"y2":{"datum":1}}},
    {"data":{"values":[{"u":"Alleles"}]},"mark":{"type":"rule","color":"#000","strokeWidth":1.3},
     "encoding":{"x":{"datum":1.15,"type":"quantitative","axis":null},"x2":{"datum":2.29},"y":{"datum":1.032,"type":"quantitative","axis":null}}}
   ]},
  {"width":180,"height":591,"title":{"text":"B","anchor":"start","frame":"group","dx":121,"offset":95,"fontSize":28,"fontWeight":"bold","font":"Liberation Sans"},"data":{"values":[]},"mark":"point"},
  {"width":50,"height":591,
   "title":{"text":"Cri-du-chat","anchor":"middle","frame":"group","dx":0,"offset":21,"fontSize":26,"fontWeight":"normal","font":"Open Sans"},
   "resolve":{"axis":{"y":"independent"}},
   "layer":[
    {"data":{"name":"B"},"mark":{"type":"circle","size":44,"opacity":0.72,"clip":true},
     "encoding":{
      "x":{"field":"x","type":"quantitative","scale":{"domain":[0,1],"nice":false,"zero":false},"axis":null},
      "y":{"field":"y","type":"quantitative","scale":{"domain":[0,1],"nice":false,"zero":false},"axis":{"orient":"left","values":[0,0.1,0.2,0.3,0.4,0.5,0.6,0.7,0.8,0.9,1],"labels":false,"ticks":false,"domain":false,"grid":true,"gridColor":"#c4c4c4","title":null}},
      "color":{"field":"a","type":"nominal","scale":{"domain":["AA","AB","BB"],"range":["#c1272d","#5ee824","#2b4c9b"]},"legend":null}}},
    {"data":{"values":[{"level":1,"a":"AA"},{"level":0,"a":"BB"}]},"mark":{"type":"rule","strokeWidth":5},
     "encoding":{"x":{"datum":0,"type":"quantitative","axis":null},"x2":{"datum":1},
      "y":{"field":"level","type":"quantitative","axis":{"orient":"right","values":[0,0.5,1],"labelExpr":"datum.value == 1 ? 'AA' : datum.value == 0 ? 'BB' : 'AB'","ticks":false,"domain":false,"grid":false,"labelFontSize":22,"labelPadding":9,"labelOverlap":false,"labelFlush":false,"title":"Alleles","titleAngle":0,"titleAlign":"left","titleBaseline":"alphabetic","titleX":10,"titleY":-23,"titleFontSize":22,"titleFontWeight":"normal"}},
      "color":{"field":"a","type":"nominal","legend":null}}},
    {"data":{"values":[{"edge":0}]},"mark":{"type":"rule","strokeDash":[4,3],"color":"#555","strokeWidth":1.2},
     "encoding":{"x":{"field":"edge","type":"quantitative","axis":null},"y":{"datum":0,"type":"quantitative","axis":null},"y2":{"datum":1}}},
    {"data":{"values":[{"u":"Alleles"}]},"mark":{"type":"rule","color":"#000","strokeWidth":1.3},
     "encoding":{"x":{"datum":1.2,"type":"quantitative","axis":null},"x2":{"datum":2.52},"y":{"datum":1.032,"type":"quantitative","axis":null}}}
   ]},
  {"width":190,"height":591,"title":{"text":"C","anchor":"start","frame":"group","dx":106,"offset":95,"fontSize":28,"fontWeight":"bold","font":"Liberation Sans"},"data":{"values":[]},"mark":"point"},
  {"width":53,"height":591,
   "title":{"text":["Prader-Willi/","Angelman"],"anchor":"start","frame":"group","dx":-49,"offset":21,"lineHeight":28,"fontSize":26,"fontWeight":"normal","font":"Open Sans"},
   "resolve":{"axis":{"y":"independent"}},
   "layer":[
    {"data":{"name":"C"},"mark":{"type":"circle","size":44,"opacity":0.72,"clip":true},
     "encoding":{
      "x":{"field":"x","type":"quantitative","scale":{"domain":[0,1],"nice":false,"zero":false},"axis":null},
      "y":{"field":"y","type":"quantitative","scale":{"domain":[0,1],"nice":false,"zero":false},"axis":{"orient":"left","values":[0,0.1,0.2,0.3,0.4,0.5,0.6,0.7,0.8,0.9,1],"labels":false,"ticks":false,"domain":false,"grid":true,"gridColor":"#c4c4c4","title":null}},
      "color":{"field":"a","type":"nominal","scale":{"domain":["AA","AB","BB"],"range":["#c1272d","#5ee824","#2b4c9b"]},"legend":null}}},
    {"data":{"values":[{"level":1,"a":"AA"},{"level":0,"a":"BB"}]},"mark":{"type":"rule","strokeWidth":5},
     "encoding":{"x":{"datum":0,"type":"quantitative","axis":null},"x2":{"datum":1},
      "y":{"field":"level","type":"quantitative","axis":{"orient":"right","values":[0,0.5,1],"labelExpr":"datum.value == 1 ? 'AA' : datum.value == 0 ? 'BB' : 'AB'","ticks":false,"domain":false,"grid":false,"labelFontSize":22,"labelPadding":10,"labelOverlap":false,"labelFlush":false,"title":"Alleles","titleAngle":0,"titleAlign":"left","titleBaseline":"alphabetic","titleX":11,"titleY":-23,"titleFontSize":22,"titleFontWeight":"normal"}},
      "color":{"field":"a","type":"nominal","legend":null}}},
    {"data":{"values":[{"edge":0},{"edge":1}]},"mark":{"type":"rule","strokeDash":[4,3],"color":"#555","strokeWidth":1.2},
     "encoding":{"x":{"field":"edge","type":"quantitative","axis":null},"y":{"datum":0,"type":"quantitative","axis":null},"y2":{"datum":1}}},
    {"data":{"values":[{"u":"Alleles"}]},"mark":{"type":"rule","color":"#000","strokeWidth":1.3},
     "encoding":{"x":{"datum":1.21,"type":"quantitative","axis":null},"x2":{"datum":2.43},"y":{"datum":1.032,"type":"quantitative","axis":null}}}
   ]},
  {"width":161,"height":591,"title":{"text":"D","anchor":"start","frame":"group","dx":98,"offset":95,"fontSize":28,"fontWeight":"bold","font":"Liberation Sans"},"data":{"values":[]},"mark":"point"},
  {"width":26,"height":591,
   "title":{"text":"22q11.2","anchor":"middle","frame":"group","dx":-12,"offset":21,"fontSize":26,"fontWeight":"normal","font":"Open Sans"},
   "resolve":{"axis":{"y":"independent"}},
   "layer":[
    {"data":{"name":"D"},"mark":{"type":"circle","size":44,"opacity":0.72,"clip":true},
     "encoding":{
      "x":{"field":"x","type":"quantitative","scale":{"domain":[0,1],"nice":false,"zero":false},"axis":null},
      "y":{"field":"y","type":"quantitative","scale":{"domain":[0,1],"nice":false,"zero":false},"axis":{"orient":"left","values":[0,0.1,0.2,0.3,0.4,0.5,0.6,0.7,0.8,0.9,1],"labels":false,"ticks":false,"domain":false,"grid":true,"gridColor":"#c4c4c4","title":null}},
      "color":{"field":"a","type":"nominal","scale":{"domain":["AA","AB","BB"],"range":["#c1272d","#5ee824","#2b4c9b"]},"legend":null}}},
    {"data":{"values":[{"level":1,"a":"AA"},{"level":0,"a":"BB"}]},"mark":{"type":"rule","strokeWidth":5},
     "encoding":{"x":{"datum":0,"type":"quantitative","axis":null},"x2":{"datum":1},
      "y":{"field":"level","type":"quantitative","axis":{"orient":"right","values":[0,1],"labelExpr":"datum.value == 1 ? 'A' : 'B'","ticks":false,"domain":false,"grid":false,"labelFontSize":22,"labelPadding":10,"labelOverlap":false,"labelFlush":false,"title":"Alleles","titleAngle":0,"titleAlign":"left","titleBaseline":"alphabetic","titleX":10,"titleY":-23,"titleFontSize":22,"titleFontWeight":"normal"}},
      "color":{"field":"a","type":"nominal","legend":null}}},
    {"data":{"values":[{"edge":0},{"edge":1}]},"mark":{"type":"rule","strokeDash":[4,3],"color":"#555","strokeWidth":1.2},
     "encoding":{"x":{"field":"edge","type":"quantitative","axis":null},"y":{"datum":0,"type":"quantitative","axis":null},"y2":{"datum":1}}},
    {"data":{"values":[{"u":"Alleles"}]},"mark":{"type":"rule","color":"#000","strokeWidth":1.3},
     "encoding":{"x":{"datum":1.38,"type":"quantitative","axis":null},"x2":{"datum":3.92},"y":{"datum":1.032,"type":"quantitative","axis":null}}}
   ]}
],"spacing":0,"bounds":"flush"},
{"width":800,"height":30,
 "layer":[
  {"data":{"values":[{"t":"Input:"}]},"mark":{"type":"text","align":"right","baseline":"middle","fontSize":26,"fontWeight":"bold","font":"Liberation Sans Narrow, DejaVu Sans Condensed, Roboto, sans-serif"},
   "encoding":{"x":{"datum":0.345,"type":"quantitative","scale":{"domain":[0,1]},"axis":null},"y":{"datum":0.5,"type":"quantitative","scale":{"domain":[0,1]},"axis":null},"text":{"field":"t"}}},
  {"data":{"values":[{"t":"22q11.2 deletion (Di George) cell line"}]},"mark":{"type":"text","align":"left","baseline":"middle","dx":6,"fontSize":26,"font":"Liberation Sans Narrow, DejaVu Sans Condensed, Roboto, sans-serif"},
   "encoding":{"x":{"datum":0.345,"type":"quantitative","axis":null},"y":{"datum":0.5,"type":"quantitative","axis":null},"text":{"field":"t"}}}
 ]}
],
"spacing":10
}
